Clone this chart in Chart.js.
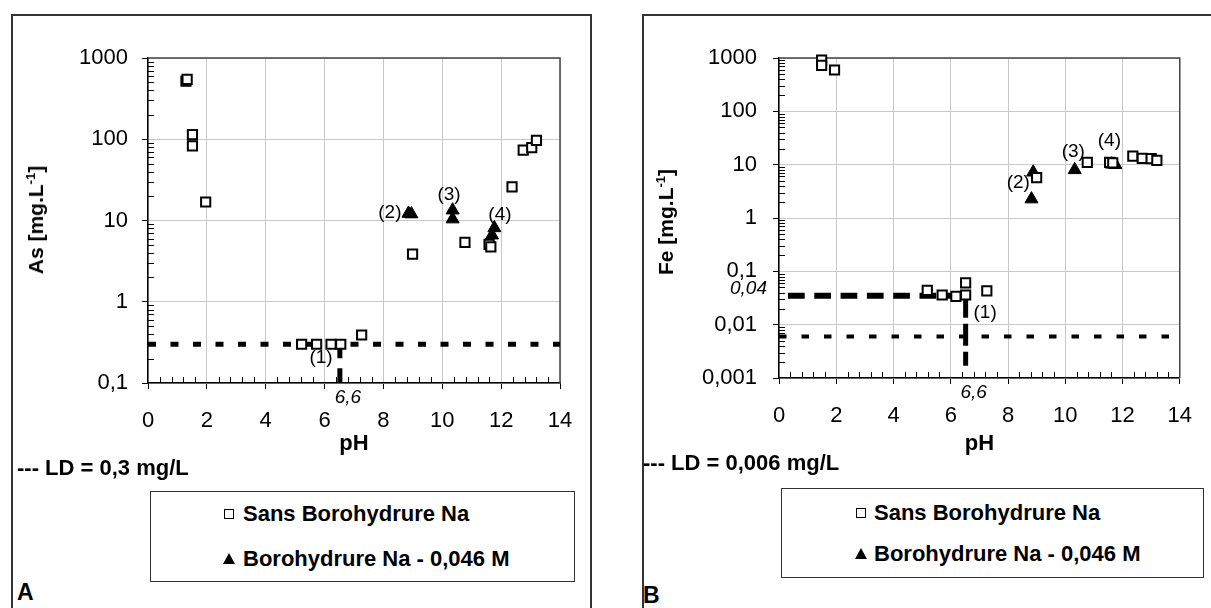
<!DOCTYPE html>
<html>
<head>
<meta charset="utf-8">
<script src="https://cdn.jsdelivr.net/npm/chart.js@4.4.1/dist/chart.umd.min.js"></script>
<style>
body { margin: 0; background: #fff; font-family: "Liberation Sans", Arial, sans-serif; color: #000; }
#page { position: relative; width: 1211px; height: 608px; overflow: hidden; }
.panel { position: absolute; top: 14px; height: 640px; border: 2px solid #333; box-sizing: border-box; }
canvas { position: absolute; top: 0; }
.txt { position: absolute; white-space: nowrap; font-weight: bold; font-size: 22px; line-height: 24px; }
.ytitle { position: absolute; white-space: nowrap; font-weight: bold; font-size: 21px; line-height: 24px;
  transform: translate(-50%, -50%) rotate(-90deg); }
.ytitle sup { font-size: 13px; vertical-align: 8px; line-height: 0; }
.legend { position: absolute; border: 1.5px solid #333; box-sizing: border-box; background: #fff; }
.legend .row { position: absolute; white-space: nowrap; font-weight: bold; font-size: 22px; line-height: 24px; }
.sq { position: absolute; width: 10px; height: 10px; border: 1.5px solid #000; box-sizing: border-box; }
.tri { position: absolute; width: 0; height: 0; border-left: 6px solid transparent; border-right: 6px solid transparent; border-bottom: 11px solid #000; }
</style>
</head>
<body>
<div id="page">
  <div class="panel" style="left:11px;width:581px"></div>
  <div class="panel" style="left:642px;width:580px"></div>

  <canvas id="chartA" width="600" height="470" style="left:0"></canvas>
  <canvas id="chartB" width="611" height="470" style="left:600px"></canvas>

  <div class="ytitle" style="left:36px;top:220px">As [mg.L<sup>-1</sup>]</div>
  <div class="ytitle" style="left:666px;top:222px">Fe [mg.L<sup>-1</sup>]</div>

  <div class="txt" style="left:17px;top:456px">--- LD = 0,3 mg/L</div>
  <div class="txt" style="left:643px;top:451px">--- LD = 0,006 mg/L</div>

  <div class="legend" style="left:150px;top:491px;width:425px;height:91px">
    <div class="sq" style="left:73px;top:17px"></div>
    <div class="row" style="left:92px;top:10px">Sans Borohydrure Na</div>
    <div class="tri" style="left:72px;top:61px"></div>
    <div class="row" style="left:92px;top:55px">Borohydrure Na - 0,046 M</div>
  </div>
  <div class="legend" style="left:781px;top:488px;width:423px;height:90px">
    <div class="sq" style="left:74px;top:19px"></div>
    <div class="row" style="left:92px;top:12px">Sans Borohydrure Na</div>
    <div class="tri" style="left:73px;top:59px"></div>
    <div class="row" style="left:92px;top:53px">Borohydrure Na - 0,046 M</div>
  </div>

  <div class="txt" style="left:17px;top:580px;font-size:23px">A</div>
  <div class="txt" style="left:643px;top:583px;font-size:23px">B</div>
</div>

<script>
// pH axis
const pHMin = 0;
const pHMax = 14;
const pHStep = 2;

// panel A : arsenic
const pHSansA = [1.29, 1.33, 1.51, 1.51, 1.96, 5.22, 5.73, 6.22, 6.55, 7.26, 8.99, 10.77, 11.59, 11.65, 12.37, 12.75, 13.04, 13.2];
const asSans  = [520, 545, 114, 83, 16.9, 0.3, 0.3, 0.3, 0.3, 0.39, 3.86, 5.37, 5.08, 4.74, 26, 73.6, 79, 97];
const pHBoroA = [8.85, 8.95, 10.35, 10.35, 11.69, 11.77];
const asBoro  = [12.2, 12.0, 13.4, 10.4, 6.6, 8.1];
const yTicksA = [0.1, 1, 10, 100, 1000];
const ldA = 0.3;
const crossA = [6.52, 0.3];
const noteA = ['(1)', '(2)', '(3)', '(4)'];
const notePHA = [5.88, 8.22, 10.23, 11.96];
const noteValA = [0.203, 12.4, 20.6, 11.7];

// panel B : fer
const pHSansB = [1.49, 1.49, 1.94, 5.18, 5.7, 6.18, 6.52, 6.52, 7.26, 9.0, 10.77, 11.55, 11.66, 12.36, 12.69, 13.0, 13.2];
const feSans  = [912, 730, 596, 0.044, 0.036, 0.034, 0.036, 0.061, 0.043, 5.7, 11, 11, 10.8, 14.5, 13.1, 13, 12];
const pHBoroB = [8.88, 8.82, 10.33, 11.62, 11.75];
const feBoro  = [7.2, 2.26, 8.0, 10.2, 10];
const yTicksB = [0.001, 0.01, 0.1, 1, 10, 100, 1000];
const ldB = 0.006;
const crossB = [6.52, 0.035, 0.0017];
const noteB = ['(1)', '(2)', '(3)', '(4)'];
const notePHB = [7.2, 8.36, 10.28, 11.54];
const noteValB = [0.0166, 4.53, 17.3, 27.8];

const FONT = '"Liberation Sans", Arial, sans-serif';

function pts(xs, ys) {
  return xs.map((x, i) => ({ x: x, y: ys[i] }));
}

function comma(v) {
  return String(v).replace('.', ',');
}

function decor(o) {
  return {
    id: 'decor' + o.id,
    beforeDatasetsDraw(chart) {
      const ctx = chart.ctx, a = chart.chartArea;
      const xs = chart.scales.x, ys = chart.scales.y;
      ctx.save();
      // cadre du tracé (haut + droite)
      ctx.strokeStyle = '#444';
      ctx.lineWidth = 1.5;
      ctx.beginPath();
      ctx.moveTo(a.left, a.top);
      ctx.lineTo(a.right, a.top);
      ctx.lineTo(a.right, a.bottom);
      ctx.stroke();
      // petites graduations
      ctx.strokeStyle = '#000';
      ctx.lineWidth = 1;
      ctx.beginPath();
      for (let d = Math.log10(ys.min); d < Math.log10(ys.max); d++) {
        for (let k = 2; k <= 9; k++) {
          const y = Math.round(ys.getPixelForValue(k * Math.pow(10, d))) + 0.5;
          ctx.moveTo(a.left, y);
          ctx.lineTo(a.left + 6, y);
        }
      }
      for (let i = 1; i < (pHMax - pHMin) / 0.4; i++) {
        if (i % 5 === 0) continue;
        const x = Math.round(xs.getPixelForValue(pHMin + i * 0.4)) + 0.5;
        ctx.moveTo(x, a.bottom);
        ctx.lineTo(x, a.bottom - 6);
      }
      ctx.stroke();
      ctx.restore();
    },
    afterDraw(chart) {
      const ctx = chart.ctx, a = chart.chartArea;
      const xs = chart.scales.x, ys = chart.scales.y;
      ctx.save();
      ctx.fillStyle = '#000';
      ctx.textAlign = 'center';
      ctx.textBaseline = 'middle';
      ctx.font = '19px ' + FONT;
      o.notes.forEach((t, i) => {
        ctx.fillText(t, xs.getPixelForValue(o.notePH[i]), ys.getPixelForValue(o.noteVal[i]));
      });
      ctx.font = 'italic 19px ' + FONT;
      ctx.fillText('6,6', xs.getPixelForValue(o.cross[0]) + 8, a.bottom + 15);
      if (o.cross.length > 2) {
        ctx.textAlign = 'right';
        ctx.fillText('0,04', a.left - 12, ys.getPixelForValue(o.cross[1]) - 7);
      }
      ctx.restore();
    }
  };
}

function makeChart(id, o) {
  const datasets = [
    {
      label: 'Sans Borohydrure Na',
      data: pts(o.pHSans, o.sans),
      pointStyle: 'rect', pointRadius: 6.5,
      pointBackgroundColor: '#fff', pointBorderColor: '#000', pointBorderWidth: 2,
      clip: false, order: 0
    },
    {
      label: 'Borohydrure Na - 0,046 M',
      data: pts(o.pHBoro, o.boro),
      pointStyle: 'triangle', pointRadius: 7.5,
      pointBackgroundColor: '#000', pointBorderColor: '#000', pointBorderWidth: 1,
      clip: false, order: 1
    },
    {
      label: 'LD',
      data: [{ x: pHMin, y: o.ld }, { x: pHMax, y: o.ld }],
      showLine: true, pointRadius: 0, borderColor: '#000',
      borderWidth: o.ldWidth, borderDash: o.ldDash, clip: false, order: 2
    }
  ];
  if (o.cross.length > 2) {
    datasets.push({
      label: 'palier',
      data: [{ x: pHMin, y: o.cross[1] }, { x: o.cross[0], y: o.cross[1] }],
      showLine: true, pointRadius: 0, borderColor: '#000',
      borderWidth: 6, borderDash: [16.7, 9.6], borderDashOffset: 17.3, clip: false, order: 2
    });
    datasets.push({
      label: 'pH 6,6',
      data: [{ x: o.cross[0], y: o.cross[1] }, { x: o.cross[0], y: o.cross[2] }],
      showLine: true, pointRadius: 0, borderColor: '#000',
      borderWidth: 5, borderDash: [22, 6], clip: false, order: 2
    });
  } else {
    datasets.push({
      label: 'pH 6,6',
      data: [{ x: o.cross[0], y: o.cross[1] }, { x: o.cross[0], y: o.yTicks[0] }],
      showLine: true, pointRadius: 0, borderColor: '#000',
      borderWidth: 5, borderDash: [14, 10], clip: false, order: 2
    });
  }

  return new Chart(document.getElementById(id), {
    type: 'scatter',
    data: { datasets: datasets },
    options: {
      responsive: false,
      animation: false,
      events: [],
      devicePixelRatio: 1,
      layout: { padding: { top: 58, right: o.padRight, left: 0, bottom: 0 } },
      plugins: { legend: { display: false }, tooltip: { enabled: false } },
      scales: {
        x: {
          type: 'linear', min: pHMin, max: pHMax,
          ticks: { stepSize: pHStep, color: '#000', padding: 19, maxRotation: 0, font: { family: FONT, size: 22 } },
          grid: { color: '#c8c8c8', tickColor: '#000', tickLength: 6, lineWidth: 1 },
          border: { color: '#000', width: 1.5 },
          title: { display: true, text: 'pH', color: '#000', font: { family: FONT, size: 22, weight: 'bold' }, padding: { top: 0, bottom: 13 } },
          afterFit(s) { s.height = o.xh; }
        },
        y: {
          type: 'logarithmic', min: o.yTicks[0], max: o.yTicks[o.yTicks.length - 1],
          afterBuildTicks(s) { s.ticks = o.yTicks.map(v => ({ value: v })); },
          ticks: { color: '#000', padding: o.yPad, autoSkip: false, font: { family: FONT, size: 22 }, callback: v => comma(v) },
          grid: { color: '#c8c8c8', tickColor: '#000', tickLength: 6, lineWidth: 1 },
          border: { color: '#000', width: 1.5 },
          afterFit(s) { s.width = o.yw; }
        }
      }
    },
    plugins: [decor(o)]
  });
}

makeChart('chartA', {
  id: 'A', pHSans: pHSansA, sans: asSans, pHBoro: pHBoroA, boro: asBoro,
  yTicks: yTicksA, ld: ldA, ldWidth: 5, ldDash: [8, 14.5], cross: crossA,
  notes: noteA, notePH: notePHA, noteVal: noteValA,
  padRight: 40, xh: 87, yw: 148, yPad: 14
});

makeChart('chartB', {
  id: 'B', pHSans: pHSansB, sans: feSans, pHBoro: pHBoroB, boro: feBoro,
  yTicks: yTicksB, ld: ldB, ldWidth: 4, ldDash: [7.5, 15], cross: crossB,
  notes: noteB, notePH: notePHB, noteVal: noteValB,
  padRight: 22, xh: 92, yw: 179, yPad: 16
});
</script>
</body>
</html>
